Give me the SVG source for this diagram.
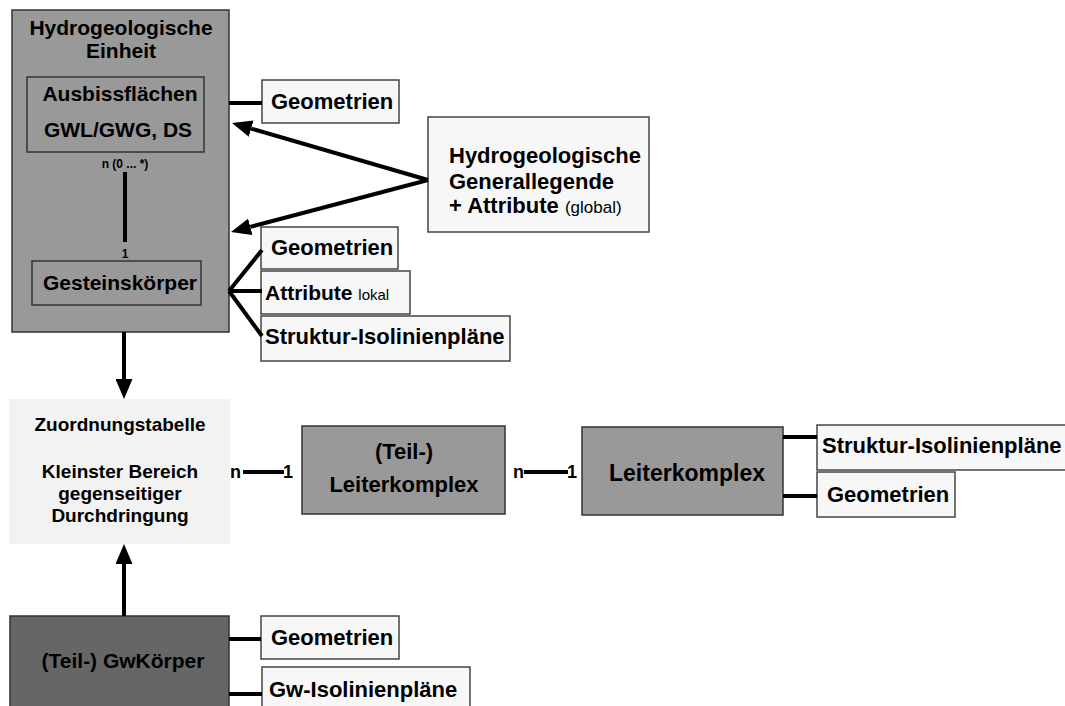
<svg xmlns="http://www.w3.org/2000/svg" width="1065" height="706" viewBox="0 0 1065 706">
<style>
text{font-family:"Liberation Sans",Arial,sans-serif;font-weight:bold;fill:#000}
.gray{fill:#999999;stroke:#333333;stroke-width:1.5}
.light{fill:#f7f7f7;stroke:#444444;stroke-width:1.5}
.c{text-anchor:middle}
.con line{stroke:#000;stroke-width:4;fill:none}
</style>
<defs>
<marker id="ah" viewBox="0 0 20 17" refX="0" refY="8.5" markerWidth="20" markerHeight="17" markerUnits="userSpaceOnUse" orient="auto">
<path d="M0,0 L20,8.5 L0,17 Z" fill="#000"/>
</marker>
</defs>
<rect width="1065" height="706" fill="#ffffff"/>

<g id="hydro-einheit">
<rect class="gray" x="12" y="10" width="217" height="322"/>
<text class="c" x="121" y="35" font-size="21">Hydrogeologische</text>
<text class="c" x="121" y="58" font-size="21">Einheit</text>
</g>
<g id="ausbiss">
<rect class="gray" x="27" y="77" width="177" height="75"/>
<text class="c" x="120" y="101" font-size="21">Ausbissflächen</text>
<text class="c" x="118" y="137" font-size="21">GWL/GWG, DS</text>
</g>
<g id="gestein">
<rect class="gray" x="32" y="261" width="169" height="44"/>
<text class="c" x="120" y="290" font-size="21">Gesteinskörper</text>
</g>

<g id="geo1"><rect class="light" x="262" y="80" width="137" height="43"/><text x="271" y="109" font-size="22">Geometrien</text></g>
<g id="legende">
<rect class="light" x="428" y="117" width="221" height="115"/>
<text x="449" y="163" font-size="22">Hydrogeologische</text>
<text x="449" y="189" font-size="22">Generallegende</text>
<text x="449" y="213" font-size="22">+ Attribute <tspan font-size="17" font-weight="normal">(global)</tspan></text>
</g>
<g id="geo2"><rect class="light" x="261" y="227" width="137" height="42"/><text x="271" y="255" font-size="22">Geometrien</text></g>
<g id="attr"><rect class="light" x="261" y="271" width="149" height="43"/><text x="265" y="300" font-size="21">Attribute <tspan font-size="15" font-weight="normal">lokal</tspan></text></g>
<g id="struktur1"><rect class="light" x="261" y="316" width="249" height="45"/><text x="265" y="344" font-size="22">Struktur-Isolinienpläne</text></g>

<g id="zuordnung">
<rect x="9" y="399" width="221" height="145" fill="#f2f2f2"/>
<text class="c" x="120" y="431" font-size="19">Zuordnungstabelle</text>
<text class="c" x="120" y="478" font-size="19">Kleinster Bereich</text>
<text class="c" x="120" y="500" font-size="19">gegenseitiger</text>
<text class="c" x="120" y="522" font-size="19">Durchdringung</text>
</g>
<g id="teilleiter">
<rect class="gray" x="302" y="426" width="203" height="88"/>
<text class="c" x="404" y="459" font-size="22">(Teil-)</text>
<text class="c" x="404" y="492" font-size="22">Leiterkomplex</text>
</g>
<g id="leiter">
<rect class="gray" x="582" y="427" width="201" height="88"/>
<text class="c" x="687" y="481" font-size="23">Leiterkomplex</text>
</g>
<g id="struktur2"><rect class="light" x="817" y="425" width="252" height="45"/><text x="822" y="453" font-size="22">Struktur-Isolinienpläne</text></g>
<g id="geo3"><rect class="light" x="817" y="472" width="138" height="45"/><text x="827" y="502" font-size="22">Geometrien</text></g>

<g id="gwkoerper">
<rect x="10" y="616" width="219" height="95" fill="#666666" stroke="#333333" stroke-width="1.5"/>
<text class="c" x="123" y="668" font-size="21">(Teil-) GwKörper</text>
</g>
<g id="geo4"><rect class="light" x="261" y="616" width="138" height="43"/><text x="271" y="645" font-size="22">Geometrien</text></g>
<g id="gwiso"><rect class="light" x="262" y="667" width="208" height="45"/><text x="269" y="697" font-size="22">Gw-Isolinienpläne</text></g>

<g id="connectors" class="con">
<line x1="125" y1="172" x2="125" y2="242"/>
<line x1="229" y1="103" x2="262" y2="103"/>
<line x1="428" y1="180" x2="251.2" y2="128.6" marker-end="url(#ah)"/>
<line x1="428" y1="180" x2="250.3" y2="226.9" marker-end="url(#ah)"/>
<line x1="229" y1="291" x2="262" y2="250"/>
<line x1="229" y1="291" x2="262" y2="291"/>
<line x1="229" y1="291" x2="262" y2="336"/>
<line x1="124" y1="332" x2="124" y2="379" marker-end="url(#ah)"/>
<line x1="124" y1="616" x2="124" y2="564" marker-end="url(#ah)"/>
<line x1="243" y1="472" x2="284" y2="472"/>
<line x1="524" y1="472" x2="568" y2="472"/>
<line x1="783" y1="437" x2="817" y2="437"/>
<line x1="783" y1="496" x2="817" y2="496"/>
<line x1="229" y1="639" x2="261" y2="639"/>
<line x1="229" y1="694" x2="262" y2="694"/>
</g>
<g id="labels">
<text class="c" x="125" y="168" font-size="12">n (0 ... *)</text>
<text class="c" x="125" y="258" font-size="12">1</text>
<text x="230" y="478" font-size="18">n</text>
<text x="283" y="478" font-size="18">1</text>
<text x="513" y="478" font-size="18">n</text>
<text x="567" y="478" font-size="18">1</text>
</g>
</svg>
